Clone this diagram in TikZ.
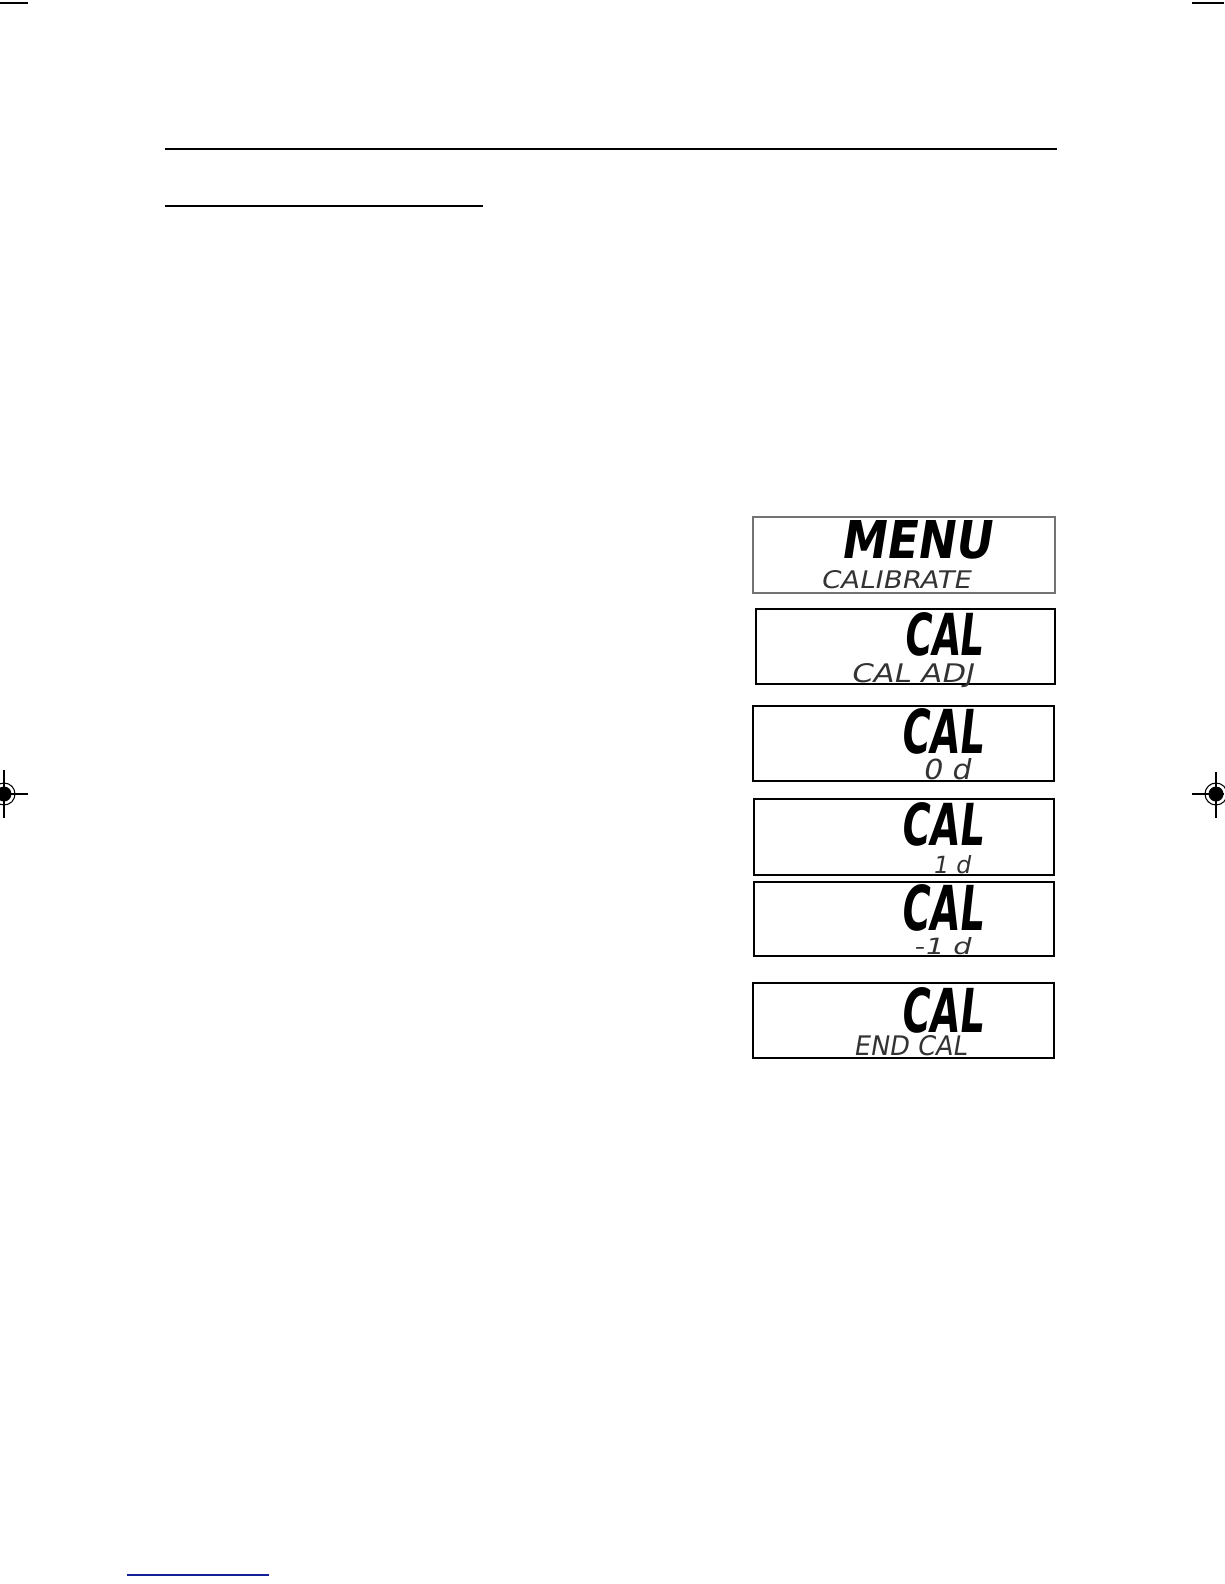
\documentclass[tikz,border=0pt]{standalone}
\usepackage{fontspec}
\usepackage{graphicx}
\newfontfamily\lcdfont[FakeSlant=0.18]{DejaVu Sans}
\definecolor{pglink}{RGB}{20,30,150}
\usetikzlibrary{positioning}
\tikzset{
  lcdbox/.style={draw=black, line width=1pt},
  lcdtxt/.style={inner sep=0pt, anchor=north west},
  regmark/.style={line width=0.6pt}
}
% segment-style display text, stretched to a given width and height
\newcommand{\lcdbig}[3]{\resizebox{#1}{#2}{\lcdfont\bfseries #3}}
\newcommand{\lcdsmall}[3]{\resizebox{#1}{#2}{\lcdfont\color{black!80}#3}}

\begin{document}
\begin{tikzpicture}[x=0.02cm, y=-0.02cm]
  \useasboundingbox (0,0) rectangle (1224,1584);

  % Crop marks
  \draw[line width=0.6pt] (0,3) -- (28,3);
  \draw[line width=0.6pt] (1192,3) -- (1224,3);

  % Rules
  \draw[line width=1.1pt] (165,149) -- (1057,149);
  \draw[line width=0.6pt] (165,206) -- (483,206);

  % Display 1
  \draw[lcdbox, draw=black!55, line width=0.6pt] (753,517) rectangle (1055,593);
  \node[lcdtxt] (menuBig) at (840,520) {\lcdbig{3.02cm}{0.76cm}{MENU}};
  \node[lcdtxt] (menuSub) at (820,570) {\lcdsmall{3.0cm}{0.36cm}{CALIBRATE}};

  % Display 2
  \draw[lcdbox] (756,609) rectangle (1055,684);
  \node[lcdtxt] (adjBig) at (903,612) {\lcdbig{1.58cm}{0.86cm}{CAL}};
  \node[lcdtxt] (adjSub) at (850,663) {\lcdsmall{2.46cm}{0.38cm}{CAL ADJ}};

  % Display 3
  \draw[lcdbox] (753,706) rectangle (1054,781);
  \node[lcdtxt] (zeroBig) at (900,708) {\lcdbig{1.64cm}{0.9cm}{CAL}};
  \node[lcdtxt] (zeroSub) at (922,758) {\lcdsmall{0.96cm}{0.42cm}{0 d}};

  % Display 4
  \draw[lcdbox] (754,799) rectangle (1054,875);
  \node[lcdtxt] (plusBig) at (900,802) {\lcdbig{1.64cm}{0.86cm}{CAL}};
  \node[lcdtxt] (plusSub) at (932,855) {\lcdsmall{0.76cm}{0.36cm}{1 d}};

  % Display 5
  \draw[lcdbox] (754,882) rectangle (1054,956);
  \node[lcdtxt] (minusBig) at (900,884) {\lcdbig{1.64cm}{0.92cm}{CAL}};
  \node[lcdtxt] (minusSub) at (913,937) {\lcdsmall{1.14cm}{0.34cm}{-1 d}};

  % Display 6
  \draw[lcdbox] (753,983) rectangle (1054,1058);
  \node[lcdtxt] (endBig) at (900,987) {\lcdbig{1.64cm}{0.9cm}{CAL}};
  \node[lcdtxt] (endSub) at (853,1035) {\lcdsmall{2.26cm}{0.4cm}{END CAL}};

  % Registration marks
  \draw[regmark] (4,794) circle (11);
  \fill (4,794) circle (7.5);
  \draw[regmark] (4,770) -- (4,818);
  \draw[regmark] (0,794) -- (28,794);

  \draw[regmark] (1216,794) circle (11);
  \fill (1216,794) circle (7.5);
  \draw[regmark] (1216,772) -- (1216,818);
  \draw[regmark] (1192,794) -- (1224,794);

  % Footer link line
  \draw[pglink, line width=0.6pt] (127,1575) -- (269,1575);
\end{tikzpicture}
\end{document}
